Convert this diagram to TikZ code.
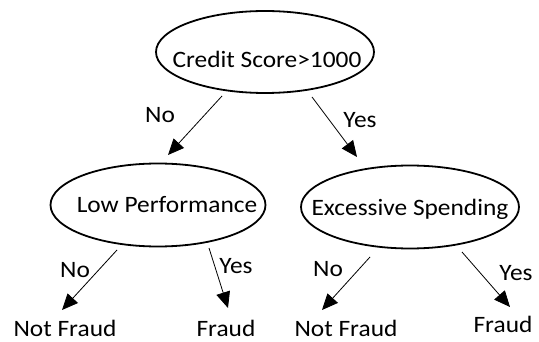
\documentclass[tikz,border=0pt]{standalone}
\usepackage{fontspec}
\setmainfont{Carlito}[FakeStretch=1.08]
\usetikzlibrary{shapes.geometric,arrows.meta,calc}
\begin{document}
\begin{tikzpicture}[x=1pt,y=-1pt,
  font=\fontsize{23.5}{28}\selectfont,
  ell/.style={draw, ellipse, line width=1.8pt, inner sep=0pt},
  arr/.style={-{Triangle[length=16pt,width=14pt]}, line width=0.8pt},
  txt/.style={inner sep=0pt}]
\useasboundingbox (0,0) rectangle (539,342);
% decision nodes
\node[ell, minimum width=218pt, minimum height=82pt,
  label={[name=topt, txt, xshift=2pt, yshift=-7pt]center:Credit Score>1000}] (top) at (265,52) {};
\node[ell, minimum width=215pt, minimum height=83pt,
  label={[name=lowt, txt, xshift=9pt]center:Low Performance}] (low) at (158,205) {};
\node[ell, minimum width=218pt, minimum height=83pt,
  label={[name=exct, txt, yshift=-2pt]center:Excessive Spending}] (exc) at (410,207) {};
% leaves
\node[txt] (nf1) at (65,328) {Not Fraud};
\node[txt] (fr1) at (226,328) {Fraud};
\node[txt] (nf2) at (346,328) {Not Fraud};
\node[txt] (fr2) at (503,324) {Fraud};
% connectors
\draw[arr] ($(top.center)+(-43,44)$) -- ($(low.center)+(10,-50)$);
\draw[arr] ($(top.center)+(47,45)$) -- ($(exc.center)+(-53,-50)$);
\draw[arr] ($(low.center)+(-41,45)$) -- ($(nf1.center)+(-3,-18)$);
\draw[arr] ($(low.center)+(51,43)$) -- ($(fr1.center)+(2,-20)$);
\draw[arr] ($(exc.center)+(-40,50)$) -- ($(nf2.center)+(-24,-18)$);
\draw[arr] ($(exc.center)+(52,45)$) -- ($(fr2.center)+(7,-17)$);
% branch labels
\node[txt] (l1) at (160,115) {No};
\node[txt] (l2) at (360,120) {Yes};
\node[txt] (l3) at (75,270) {No};
\node[txt] (l4) at (236,266) {Yes};
\node[txt] (l5) at (328,269) {No};
\node[txt] (l6) at (516,273) {Yes};
\end{tikzpicture}
\end{document}
